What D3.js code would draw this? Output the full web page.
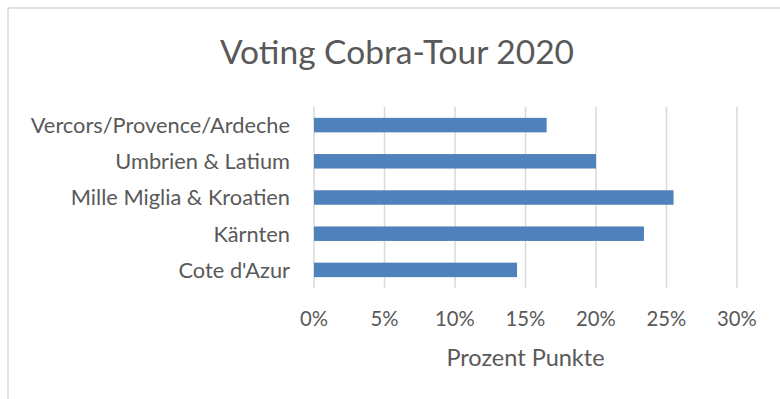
<!doctype html>
<html>
<head>
<meta charset="utf-8"/>
<script src="https://cdnjs.cloudflare.com/ajax/libs/d3/7.8.5/d3.min.js"></script>
<style>
  body { margin: 0; background: #fff; }
  text { font-family: Lato, "Open Sans", sans-serif; fill: #595959; }
  .grid line { stroke: #d9d9d9; stroke-width: 1.5px; }
  .bar { fill: #4f81bd; }
</style>
</head>
<body>
<svg width="780" height="399"></svg>
<script>
// data, top to bottom as drawn
var categories = ["Vercors/Provence/Ardeche", "Umbrien & Latium", "Mille Miglia & Kroatien", "Kärnten", "Cote d'Azur"];
var values = [0.165, 0.20, 0.255, 0.234, 0.144];
var ticks = [0, 0.05, 0.10, 0.15, 0.20, 0.25, 0.30];

var svg = d3.select("svg");

// chart frame
svg.append("rect")
  .attr("x", 8).attr("y", 8)
  .attr("width", 800).attr("height", 420)
  .attr("fill", "none")
  .attr("stroke", "#d9d9d9")
  .attr("stroke-width", 1.5);

var x = d3.scaleLinear().domain([0, 0.30]).range([314, 737]);
var y = d3.scaleBand().domain(categories).range([107, 288]).paddingInner(0.6).paddingOuter(0.3);

// gridlines
svg.append("g").attr("class", "grid")
  .selectAll("line")
  .data(ticks)
  .enter().append("line")
  .attr("x1", d => x(d)).attr("x2", d => x(d))
  .attr("y1", 107).attr("y2", 288);

// bars
svg.append("g")
  .selectAll("rect")
  .data(values)
  .enter().append("rect")
  .attr("class", "bar")
  .attr("x", x(0))
  .attr("y", (d, i) => y(categories[i]))
  .attr("width", d => x(d) - x(0))
  .attr("height", y.bandwidth());

// category labels
svg.append("g")
  .selectAll("text")
  .data(categories)
  .enter().append("text")
  .attr("x", 290)
  .attr("y", d => y(d) + y.bandwidth() / 2)
  .attr("dy", "0.36em")
  .attr("text-anchor", "end")
  .style("font-size", "21.8px")
  .text(d => d);

// tick labels
svg.append("g")
  .selectAll("text")
  .data(ticks)
  .enter().append("text")
  .attr("x", d => x(d))
  .attr("y", 326)
  .attr("text-anchor", "middle")
  .style("font-size", "20.3px")
  .text(d3.format(".0%"));

// axis title
svg.append("text")
  .attr("x", (x(0) + x(0.30)) / 2)
  .attr("y", 366)
  .attr("text-anchor", "middle")
  .style("font-size", "23.5px")
  .text("Prozent Punkte");

// chart title
svg.append("text")
  .attr("x", 397)
  .attr("y", 64)
  .attr("text-anchor", "middle")
  .style("font-size", "33.5px")
  .text("Voting Cobra-Tour 2020");
</script>
</body>
</html>
